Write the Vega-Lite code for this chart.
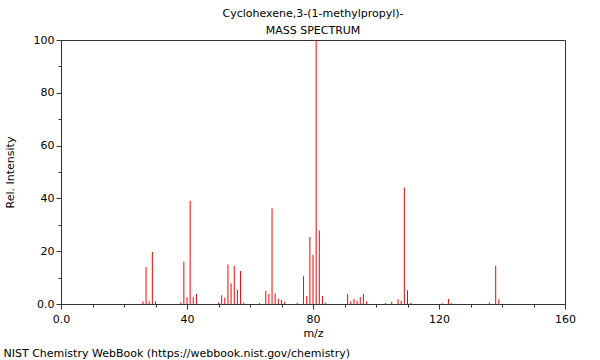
{
  "$schema": "https://vega.github.io/schema/vega-lite/v6.json",
  "padding": {"left": 3, "top": 7, "right": 6, "bottom": 2},
  "autosize": {"type": "pad"},
  "config": {
    "font": "DejaVu Sans",
    "view": {"stroke": "#333333", "strokeWidth": 1},
    "axis": {"labelFontSize": 11, "titleFontSize": 11, "titleFontWeight": "normal", "labelColor": "#000000", "titleColor": "#000000", "domainColor": "#333333", "tickColor": "#333333", "grid": false, "labelFlush": false}
  },
  "title": {"text": "NIST Chemistry WebBook (https://webbook.nist.gov/chemistry)", "orient": "bottom", "anchor": "start", "frame": "bounds", "fontSize": 11, "fontWeight": "normal", "color": "#000000", "offset": 9},
  "vconcat": [
    {
      "title": {"text": "Cyclohexene,3-(1-methylpropyl)-", "subtitle": "MASS SPECTRUM", "fontSize": 11, "subtitleFontSize": 11, "fontWeight": "normal", "color": "#000000", "subtitleColor": "#000000", "subtitlePadding": 6, "offset": -2},
      "width": 504,
      "height": 264,
      "data": {"values": [
        {"mz": 26, "intensity": 1.0}, {"mz": 27, "intensity": 14.0}, {"mz": 28, "intensity": 1.0}, {"mz": 29, "intensity": 19.7}, {"mz": 30, "intensity": 1.0},
        {"mz": 38, "intensity": 0.6}, {"mz": 39, "intensity": 16.0}, {"mz": 40, "intensity": 2.6}, {"mz": 41, "intensity": 39.1}, {"mz": 42, "intensity": 2.6}, {"mz": 43, "intensity": 3.8},
        {"mz": 50, "intensity": 0.5}, {"mz": 51, "intensity": 3.3}, {"mz": 52, "intensity": 2.4}, {"mz": 53, "intensity": 15.0}, {"mz": 54, "intensity": 7.8}, {"mz": 55, "intensity": 14.4}, {"mz": 56, "intensity": 5.3}, {"mz": 57, "intensity": 12.5}, {"mz": 58, "intensity": 0.6},
        {"mz": 63, "intensity": 0.4}, {"mz": 65, "intensity": 5.0}, {"mz": 66, "intensity": 3.8}, {"mz": 67, "intensity": 36.2}, {"mz": 68, "intensity": 4.0}, {"mz": 69, "intensity": 2.0}, {"mz": 70, "intensity": 1.5}, {"mz": 71, "intensity": 0.9},
        {"mz": 75, "intensity": 0.5}, {"mz": 77, "intensity": 10.5}, {"mz": 78, "intensity": 3.0}, {"mz": 79, "intensity": 25.4}, {"mz": 80, "intensity": 18.6}, {"mz": 81, "intensity": 100}, {"mz": 82, "intensity": 27.9}, {"mz": 83, "intensity": 3.0}, {"mz": 84, "intensity": 0.5},
        {"mz": 91, "intensity": 3.8}, {"mz": 92, "intensity": 1.0}, {"mz": 93, "intensity": 1.9}, {"mz": 94, "intensity": 1.2}, {"mz": 95, "intensity": 2.6}, {"mz": 96, "intensity": 3.8}, {"mz": 97, "intensity": 1.0},
        {"mz": 103, "intensity": 0.4}, {"mz": 105, "intensity": 0.9}, {"mz": 107, "intensity": 1.8}, {"mz": 108, "intensity": 1.2}, {"mz": 109, "intensity": 44.1}, {"mz": 110, "intensity": 5.2}, {"mz": 111, "intensity": 0.4},
        {"mz": 121, "intensity": 0.3}, {"mz": 123, "intensity": 1.9}, {"mz": 124, "intensity": 0.3},
        {"mz": 136, "intensity": 0.6}, {"mz": 138, "intensity": 14.5}, {"mz": 139, "intensity": 1.8}
      ]},
      "layer": [
        {
          "mark": {"type": "rule", "color": "#ff0000", "strokeWidth": 1},
          "encoding": {
            "x": {"field": "mz", "type": "quantitative", "scale": {"domain": [0, 160], "nice": false, "zero": true},
                  "axis": {"orient": "bottom", "values": [0, 40, 80, 120, 160], "labelExpr": "datum.value == 0 ? '0.0' : datum.label", "title": "m/z", "tickSize": 5, "labelPadding": 4, "titlePadding": 3}},
            "y": {"field": "intensity", "type": "quantitative", "scale": {"domain": [0, 100], "nice": false},
                  "axis": {"orient": "left", "values": [0, 20, 40, 60, 80, 100], "labelExpr": "datum.value == 0 ? '0.0' : datum.label", "title": "Rel. Intensity", "tickSize": 5, "labelPadding": 2, "titlePadding": 18}},
            "y2": {"datum": 0}
          }
        },
        {
          "mark": {"type": "rule", "opacity": 0},
          "encoding": {
            "x": {"field": "mz", "type": "quantitative", "scale": {"domain": [0, 160], "nice": false},
                  "axis": {"orient": "bottom", "values": [10, 20, 30, 50, 60, 70, 90, 100, 110, 130, 140, 150], "labels": false, "title": null, "domain": false, "tickSize": 3}},
            "y": {"field": "intensity", "type": "quantitative", "scale": {"domain": [0, 100], "nice": false},
                  "axis": {"orient": "left", "values": [10, 30, 50, 70, 90], "labels": false, "title": null, "domain": false, "tickSize": 3}},
            "y2": {"datum": 0}
          }
        }
      ],
      "resolve": {"axis": {"x": "independent", "y": "independent"}}
    }
  ]
}
